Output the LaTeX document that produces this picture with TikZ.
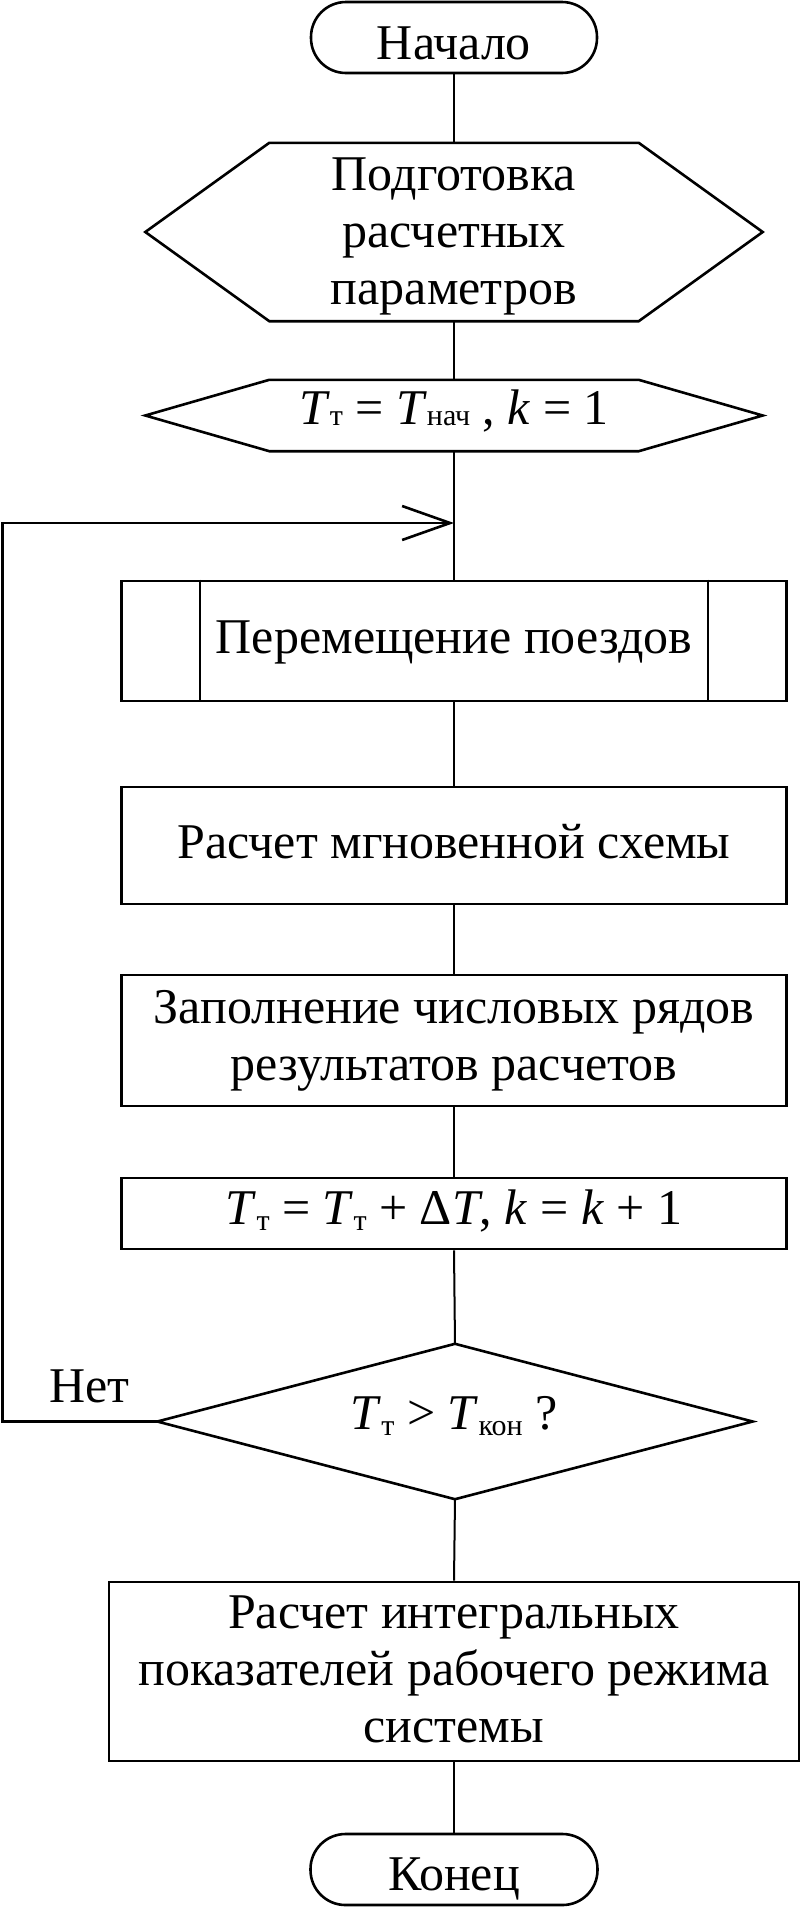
\documentclass[tikz,border=0pt]{standalone}
\usepackage{fontspec}
\setmainfont{Liberation Serif}
\usetikzlibrary{arrows.meta}
\newcommand\Tsub[2][-6pt]{\textit{T}\raisebox{#1}{\fontsize{30}{30}\selectfont #2}}
\newcommand\mlines[1]{\vtop{\baselineskip=57pt\lineskiplimit=-100pt\halign{\hfil##\hfil\cr#1\crcr}}}
\begin{document}
\begin{tikzpicture}[x=1pt,y=-1pt,
  box/.style={draw, line width=2.6pt, inner sep=0pt},
  frame/.style={draw=none, inner sep=0pt},
  outline/.style={line width=2.6pt, line join=miter},
  conn/.style={line width=2pt},
  txt/.style={anchor=base, inner sep=0pt, font=\fontsize{50}{57}\selectfont},
]
\useasboundingbox[fill=white] (0,0) rectangle (801,1907);

% shapes
\node[box, rounded corners=35pt, minimum width=286pt, minimum height=71pt] (start) at (454,37.5) {};
\node[frame, minimum width=617pt, minimum height=178pt] (prep) at (454,232) {};
\draw[outline] (prep.west) -- ([xshift=124pt]prep.north west) -- ([xshift=-124pt]prep.north east)
  -- (prep.east) -- ([xshift=-124pt]prep.south east) -- ([xshift=124pt]prep.south west) -- cycle;
\node[frame, minimum width=617pt, minimum height=71pt] (init) at (454,415.5) {};
\draw[outline] (init.west) -- ([xshift=124pt]init.north west) -- ([xshift=-124pt]init.north east)
  -- (init.east) -- ([xshift=-124pt]init.south east) -- ([xshift=124pt]init.south west) -- cycle;
\node[box, minimum width=665pt, minimum height=120pt] (move) at (454,641) {};
\draw[conn] ([xshift=80pt]move.north west) -- ([xshift=80pt]move.south west)
  ([xshift=-80pt]move.north east) -- ([xshift=-80pt]move.south east);
\node[box, minimum width=665pt, minimum height=117pt] (calc) at (454,845.5) {};
\node[box, minimum width=665pt, minimum height=131pt] (fill) at (454,1040.5) {};
\node[box, minimum width=665pt, minimum height=71pt] (incr) at (454,1213.5) {};
\node[frame, minimum width=595pt, minimum height=155pt] (cond) at (455,1421.5) {};
\draw[outline] (cond.north) -- (cond.east) -- (cond.south) -- (cond.west) -- cycle;
\node[box, minimum width=690pt, minimum height=179pt] (integ) at (454,1671.5) {};
\node[box, rounded corners=35pt, minimum width=287pt, minimum height=71pt] (end) at (454,1869.5) {};

% connectors
\draw[conn] (start.south) -- (prep.north);
\draw[conn] (prep.south) -- (init.north);
\draw[conn] (init.south) -- (move.north);
\draw[conn] (move.south) -- (calc.north);
\draw[conn] (calc.south) -- (fill.north);
\draw[conn] (fill.south) -- (incr.north);
\draw[conn] (incr.south) -- (cond.north);
\draw[conn] (cond.south) -- (integ.north);
\draw[conn] (integ.south) -- (end.north);
\coordinate (join) at (454,523);
\coordinate (corner) at (2.5,523);
\draw[outline, -{Straight Barb[length=48pt,width=34pt]}] (cond.west) -| (corner) -- (join);

% texts
\node[txt] (start-t) at (454,59) {Начало};
\node[txt] (prep-t) at (454,190) {\mlines{Подготовка\cr расчетных\cr параметров}};
\node[txt] (init-t) at (454,424) {\Tsub[-1pt]{т} = \Tsub[-1pt]{нач} , \textit{k} = 1};
\node[txt] (move-t) at (454,653) {Перемещение поездов};
\node[txt] (calc-t) at (454,858) {Расчет мгновенной схемы};
\node[txt] (fill-t) at (454,1023) {\mlines{Заполнение числовых рядов\cr результатов расчетов}};
\node[txt] (incr-t) at (454,1224) {\Tsub{т} = \Tsub{т} + Δ\textit{T}, \textit{k} = \textit{k} + 1};
\node[txt] (cond-t) at (454,1429) {\Tsub{т} > \Tsub{кон} ?};
\node[txt] (integ-t) at (454,1628) {\mlines{Расчет интегральных\cr показателей рабочего режима\cr системы}};
\node[txt] (end-t) at (454,1890) {Конец};
\node[txt] (no) at (89.5,1402) {Нет};
\end{tikzpicture}
\end{document}
